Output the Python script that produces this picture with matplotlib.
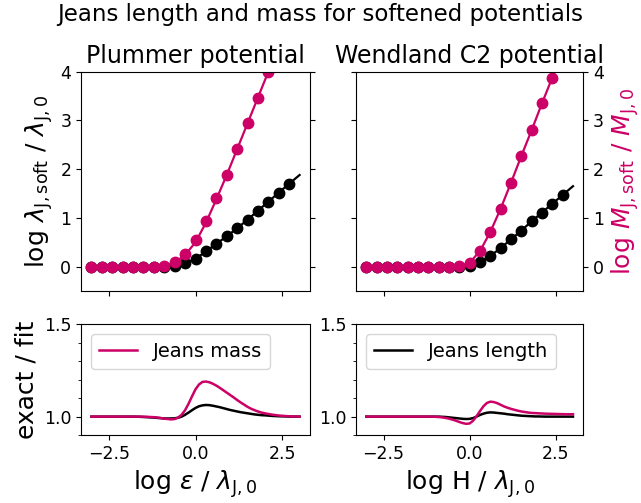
import numpy as np
import matplotlib
matplotlib.use("Agg")
import matplotlib.pyplot as plt
from matplotlib.ticker import MultipleLocator

MAG = "#cc0066"

# ---- top panels: sampled points (x = log softening / lambda_J0) ----
x_pts = [-3.0, -2.7, -2.4, -2.1, -1.8, -1.5, -1.2, -0.9, -0.6, -0.3,
         0.0, 0.3, 0.6, 0.9, 1.2, 1.5, 1.8, 2.1, 2.4, 2.7]

plum_len = [0.0, 0.0, 0.0, 0.0, 0.0, 0.0, 0.0, 0.0, 0.01, 0.07,
            0.16, 0.32, 0.47, 0.62, 0.79, 0.96, 1.15, 1.33, 1.52, 1.70]
plum_mass = [0.0, 0.0, 0.0, 0.0, 0.0, 0.0, 0.0, 0.01, 0.09, 0.25,
             0.54, 0.93, 1.40, 1.89, 2.41, 2.94, 3.47, 4.00]

wend_len = [0.0, 0.0, 0.0, 0.0, 0.0, 0.0, 0.0, 0.0, 0.0, 0.0,
            0.01, 0.10, 0.22, 0.38, 0.56, 0.74, 0.93, 1.11, 1.29, 1.47]
wend_mass = [0.0, 0.0, 0.0, 0.0, 0.0, 0.0, 0.0, 0.0, 0.0, 0.01,
             0.08, 0.32, 0.71, 1.19, 1.72, 2.27, 2.80, 3.35, 3.88]

# fitted curves (lines)
x_fit = [-3.0, -2.7, -2.4, -2.1, -1.8, -1.5, -1.2, -0.9, -0.6, -0.3,
         0.0, 0.3, 0.6, 0.9, 1.2, 1.5, 1.8, 2.1, 2.4, 2.7, 3.0]
plum_len_fit = [0.0, 0.0, 0.0, 0.0, 0.0, 0.0, 0.0, 0.003, 0.02, 0.07,
                0.16, 0.31, 0.47, 0.62, 0.79, 0.96, 1.15, 1.33, 1.52, 1.70, 1.88]
plum_mass_fit = [0.0, 0.0, 0.0, 0.0, 0.0, 0.0, 0.0, 0.01, 0.08, 0.24,
                 0.50, 0.90, 1.38, 1.88, 2.41, 2.94, 3.47, 4.00, 4.53, 5.06, 5.59]
wend_len_fit = [0.0, 0.0, 0.0, 0.0, 0.0, 0.0, 0.0, 0.0, 0.002, 0.01,
                0.03, 0.10, 0.22, 0.38, 0.56, 0.74, 0.93, 1.11, 1.29, 1.47, 1.65]
wend_mass_fit = [0.0, 0.0, 0.0, 0.0, 0.0, 0.0, 0.0, 0.0, 0.0, 0.01,
                 0.08, 0.32, 0.71, 1.19, 1.72, 2.27, 2.80, 3.35, 3.88, 4.41, 4.94]

# ---- bottom panels: ratio exact / fit ----
x_ratio = [-3.0, -2.8, -2.6, -2.4, -2.2, -2.0, -1.8, -1.6, -1.4,
           -1.2, -1.1, -1.0, -0.9, -0.8, -0.7, -0.6, -0.5, -0.4, -0.3, -0.2, -0.1,
           0.0, 0.1, 0.2, 0.3, 0.4, 0.5, 0.6, 0.7, 0.8, 0.9, 1.0,
           1.1, 1.2, 1.3, 1.4, 1.5, 1.6, 1.7, 1.8, 1.9, 2.0,
           2.2, 2.4, 2.6, 2.8, 3.0]
plum_len_ratio = [1.0, 1.0, 1.0, 1.0, 1.0, 1.0, 1.0, 0.999, 0.997,
                  0.995, 0.993, 0.992, 0.990, 0.990, 0.990, 0.991, 0.994, 1.000, 1.010, 1.022, 1.035,
                  1.047, 1.056, 1.061, 1.063, 1.062, 1.059, 1.055, 1.051, 1.046, 1.041, 1.036,
                  1.032, 1.028, 1.024, 1.021, 1.018, 1.015, 1.012, 1.010, 1.008, 1.007,
                  1.004, 1.002, 1.001, 1.0, 1.0]
plum_mass_ratio = [1.0, 1.0, 1.0, 1.0, 1.0, 1.0, 1.0, 1.0, 0.999,
                   0.997, 0.995, 0.992, 0.989, 0.987, 0.985, 0.987, 0.995, 1.010, 1.035, 1.070, 1.110,
                   1.148, 1.174, 1.188, 1.190, 1.186, 1.178, 1.168, 1.156, 1.143, 1.130, 1.117,
                   1.104, 1.090, 1.077, 1.065, 1.053, 1.043, 1.035, 1.028, 1.022, 1.018,
                   1.011, 1.006, 1.003, 1.001, 1.0]
wend_len_ratio = [1.0, 1.0, 1.0, 1.0, 1.0, 1.0, 1.0, 1.0, 1.0,
                  1.0, 1.0, 1.0, 1.0, 0.999, 0.998, 0.996, 0.994, 0.992, 0.990, 0.988, 0.987,
                  0.988, 0.992, 1.000, 1.009, 1.016, 1.021, 1.023, 1.022, 1.020, 1.018, 1.016,
                  1.013, 1.011, 1.009, 1.007, 1.005, 1.004, 1.003, 1.002, 1.001, 1.001,
                  1.0, 1.0, 1.0, 1.0, 1.0]
wend_mass_ratio = [1.0, 1.0, 1.0, 1.0, 1.0, 1.0, 1.0, 1.0, 1.0,
                   1.0, 1.0, 0.999, 0.998, 0.996, 0.993, 0.989, 0.984, 0.978, 0.971, 0.965, 0.961,
                   0.963, 0.978, 1.002, 1.030, 1.056, 1.074, 1.081, 1.079, 1.073, 1.064, 1.055,
                   1.048, 1.042, 1.037, 1.032, 1.028, 1.025, 1.022, 1.020, 1.019, 1.018,
                   1.016, 1.015, 1.014, 1.013, 1.013]

fig = plt.figure(figsize=(6.41, 5.03), dpi=100)
L1, R1 = 0.1264, 0.4836
L2, R2 = 0.5554, 0.910
TB, TT = 0.4215, 0.8575
BB, BT = 0.135, 0.3553
ax_tl = fig.add_axes([L1, TB, R1 - L1, TT - TB])
ax_tr = fig.add_axes([L2, TB, R2 - L2, TT - TB])
ax_bl = fig.add_axes([L1, BB, R1 - L1, BT - BB])
ax_br = fig.add_axes([L2, BB, R2 - L2, BT - BB])

TICK = 12.5
LAB = 18

for ax, xl, yl, xm, ym, xlf, ylf, xmf, ymf in [
        (ax_tl, x_pts, plum_len, x_pts[:len(plum_mass)], plum_mass,
         x_fit, plum_len_fit, x_fit, plum_mass_fit),
        (ax_tr, x_pts, wend_len, x_pts[:len(wend_mass)], wend_mass,
         x_fit, wend_len_fit, x_fit, wend_mass_fit)]:
    ax.plot(xlf, ylf, color="black", lw=1.6)
    ax.plot(xl, yl, "o", color="black", ms=7.5)
    ax.plot(xmf, ymf, color=MAG, lw=1.6)
    ax.plot(xm, ym, "o", color=MAG, ms=7.5)
    ax.set_ylim(-0.5, 4)
    ax.set_xlim(-3.3, 3.3)
    ax.set_xticks([-2.5, 0, 2.5])
    ax.set_yticks([0, 1, 2, 3, 4])
    ax.tick_params(labelbottom=False, labelsize=TICK)

ax_tl.tick_params(left=True, right=True)
ax_tl.set_ylabel(r"log $\lambda_{\rm J,soft}$ / $\lambda_{\rm J,0}$", fontsize=LAB)
ax_tr.tick_params(left=True, right=True, labelleft=False, labelright=True)
ax_tr.yaxis.set_label_position("right")
ax_tr.set_ylabel(r"log $M_{\rm J,soft}$ / $M_{\rm J,0}$", fontsize=LAB, color=MAG)

ax_tl.set_title("Plummer potential", fontsize=17)
ax_tr.set_title("Wendland C2 potential", fontsize=17)

ax_bl.plot(x_ratio, plum_len_ratio, color="black", lw=1.8)
ax_bl.plot(x_ratio, plum_mass_ratio, color=MAG, lw=1.8, label="Jeans mass")
ax_br.plot(x_ratio, wend_len_ratio, color="black", lw=1.8, label="Jeans length")
ax_br.plot(x_ratio, wend_mass_ratio, color=MAG, lw=1.8)

for ax in (ax_bl, ax_br):
    ax.set_ylim(0.9, 1.5)
    ax.set_xlim(-3.3, 3.3)
    ax.set_xticks([-2.5, 0, 2.5])
    ax.set_yticks([1.0, 1.5])
    ax.yaxis.set_minor_locator(MultipleLocator(0.1))
    ax.tick_params(labelsize=TICK)
    ax.legend(loc="upper left", fontsize=14)

ax_bl.set_ylabel("exact / fit", fontsize=LAB)
ax_bl.set_xlabel(r"log $\varepsilon$ / $\lambda_{\rm J,0}$", fontsize=LAB)
ax_br.set_xlabel(r"log H / $\lambda_{\rm J,0}$", fontsize=LAB)

fig.suptitle("Jeans length and mass for softened potentials", fontsize=16.5, y=0.995)

fig.savefig("out.png", dpi=100)
